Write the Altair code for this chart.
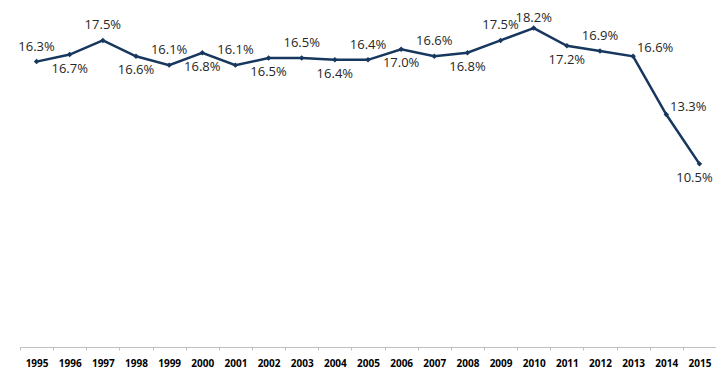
import altair as alt
import pandas as pd

years = [str(y) for y in range(1995, 2016)]
values = [16.3, 16.7, 17.5, 16.6, 16.1, 16.8, 16.1, 16.5, 16.5, 16.4, 16.4,
          17.0, 16.6, 16.8, 17.5, 18.2, 17.2, 16.9, 16.6, 13.3, 10.5]
label_side = ["above", "below", "above", "below", "above", "below", "above",
              "below", "above", "below", "above", "below", "above", "below",
              "above", "top", "below", "above", "right", "right", "belowleft"]

df = pd.DataFrame({"year": years, "value": values, "side": label_side})
df["label"] = df["value"].map(lambda v: f"{v:.1f}%")

NAVY = "#17375E"
FONT = "Open Sans"

x = alt.X("year:N", sort=years, scale=alt.Scale(paddingInner=0, paddingOuter=0),
          axis=alt.Axis(title=None, labelAngle=0, labelFont=FONT, labelFontSize=10,
                        labelFontWeight="bold", labelColor="#000000", domainColor="#BFBFBF",
                        tickColor="#BFBFBF", tickSize=3, labelPadding=8,
                        tickBand="extent", offset=-2))
y = alt.Y("value:Q", scale=alt.Scale(domain=[0, 19], nice=False, zero=True), axis=None)

base = alt.Chart(df).encode(x=x, y=y)

line = base.mark_line(color=NAVY, strokeWidth=2.5)
pts = base.mark_point(shape="diamond", filled=True, color=NAVY, size=30, opacity=1)

def txt(side, dx, dy):
    return base.transform_filter(alt.datum.side == side).mark_text(
        font=FONT, fontSize=13, color="#262626", dx=dx, dy=dy
    ).encode(text="label:N")

chart = alt.layer(
    line, pts,
    txt("above", 0, -15),
    txt("top", 0, -10),
    txt("below", 0, 14),
    txt("belowleft", -5, 14),
    txt("right", 22, -8),
).properties(
    width=696, height=335,
    autosize=alt.AutoSizeParams(type="none"),
    padding={"left": 12, "top": 6, "right": 0, "bottom": 30},
).configure_view(stroke=None)

chart.save("out.html", embed_options={"renderer": "svg", "actions": False})
